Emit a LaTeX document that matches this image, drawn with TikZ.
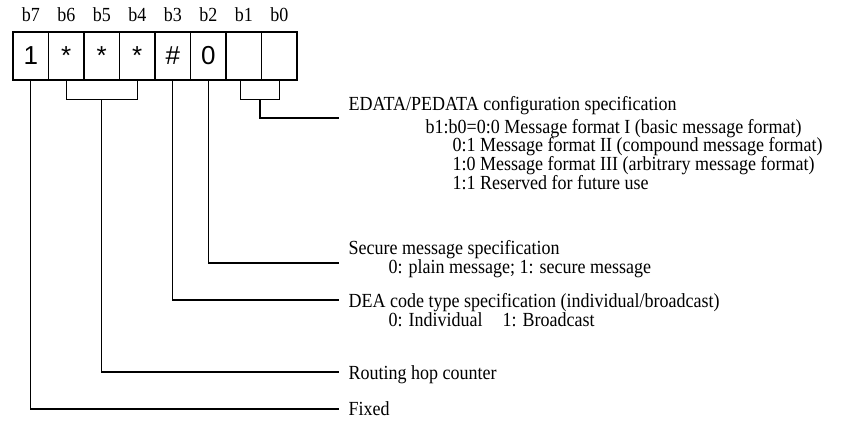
\documentclass[tikz,border=0pt]{standalone}
\usepackage{fontspec}
\setmainfont[FakeStretch=0.9]{Liberation Serif}
\newfontfamily\cellfont{Liberation Sans}
\usetikzlibrary{calc}
\begin{document}
\begin{tikzpicture}[x=1pt,y=-1pt,line width=1.3pt,
  cell/.style={draw, minimum width=35.5pt, minimum height=48pt, inner sep=0pt, font=\cellfont\fontsize{26}{26}\selectfont},
  blabel/.style={font=\fontsize{20}{20}\selectfont, anchor=base, inner sep=0pt},
  desc/.style={font=\fontsize{20}{20}\selectfont, anchor=base west, inner sep=0pt},
  conn/.style={line width=1.3pt}]
\useasboundingbox (0,0) rectangle (856,423);
% cells
\foreach \i/\t [count=\k from 0] in {7/1,6/*,5/*,4/*,3/\#,2/0,1/{},0/{}}{
  \node[cell] (c\i) at (30.75+35.5*\k,56) {\t};
  \node[blabel] (l\i) at (30.75+35.5*\k,21) {b\i};
}
% end coordinates
\coordinate (e0) at (339,118);
\coordinate (e2) at (339,263);
\coordinate (e3) at (339,300);
\coordinate (e4) at (339,372);
\coordinate (e5) at (339,409);
% texts
\node[desc] (t0) at (348,110) {EDATA/PEDATA configuration specification};
\node[desc] (t0a) at (425,133) {b1:b0=0:0 Message format I (basic message format)};
\node[desc] (t0b) at (452,151.75) {0:1 Message format II (compound message format)};
\node[desc] (t0c) at (452,170.5) {1:0 Message format III (arbitrary message format)};
\node[desc] (t0d) at (452,189.25) {1:1 Reserved for future use};
\node[desc] (t2) at (348,254) {Secure message specification};
\node[desc] (t2a) at (388,273) {0: plain message; 1: secure message};
\node[desc] (t3) at (348,307) {DEA code type specification (individual/broadcast)};
\node[desc] (t3a) at (388,326) {0: Individual\quad 1: Broadcast};
\node[desc] (t4) at (348,379) {Routing hop counter};
\node[desc] (t5) at (348,415) {Fixed};
% connectors
\draw[conn] ([xshift=-3pt]c1.south) -- ++(0,19) -| (c0.south);
\coordinate (m0) at ($([xshift=-3pt]c1.south)!0.5!(c0.south)+(0,19)$);
\draw[conn] (m0) |- (e0);
\draw[conn] (c2.south) |- (e2);
\draw[conn] (c3.south) |- (e3);
\draw[conn] (c6.south) -- ++(0,19) -| (c4.south);
\coordinate (m4) at ($(c6.south)!0.5!(c4.south)+(0,19)$);
\draw[conn] (m4) |- (e4);
\draw[conn] (c7.south) |- (e5);
\end{tikzpicture}
\end{document}
